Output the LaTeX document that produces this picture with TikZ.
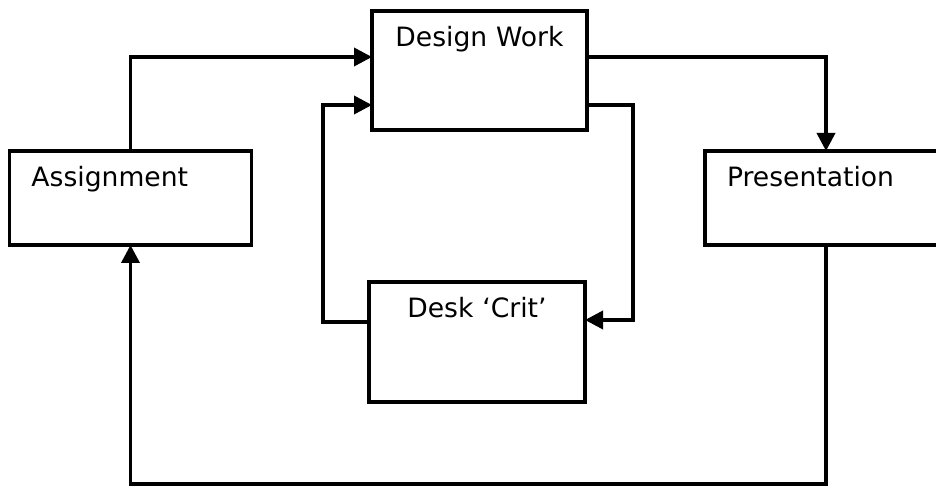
\documentclass[tikz,border=0pt]{standalone}
\usepackage{fontspec}
\setmainfont{DejaVu Sans}
\usetikzlibrary{arrows.meta}
\begin{document}
\begin{tikzpicture}[x=0.5pt,y=0.5pt,line width=1.8pt,
		box/.style={draw,inner sep=0,outer sep=0,text height=18pt,
			font=\fontsize{13.3pt}{15pt}\selectfont},
		boxleft/.style={box,align=left,inner xsep=11pt},
		boxmid/.style={box,align=center,inner xsep=0},
		flow/.style={-{Triangle[length=9pt,width=9pt]}}]
		\clip (0,0) rectangle (936,486);
		\node[boxleft,text width=99pt,text depth=29pt] (assign) at (130.5,288) {Assignment};
		\node[boxmid,text width=107.5pt,text depth=41.5pt] (design) at (479.5,415.5) {Design Work};
		\node[boxmid,text width=108pt,text depth=42pt] (crit) at (477,144) {Desk `Crit'};
		\node[boxleft,text width=99pt,text depth=29pt] (present) at (826,288) {Presentation};
		% connectors
		\draw[flow] (assign.north) |- ([yshift=-23pt]design.north west);
		\draw[flow] ([yshift=-23pt]design.north east) -| (present.north);
		\draw[flow] ([yshift=-47pt]design.north east) -- ++(46,0) |- ([yshift=-19pt]crit.north east);
		\draw[flow] ([yshift=-20pt]crit.north west) -- ++(-46,0) |- ([yshift=-47pt]design.north west);
		\draw[flow] (present.south) -- ++(0,-239) -| (assign.south);
\end{tikzpicture}
\end{document}
